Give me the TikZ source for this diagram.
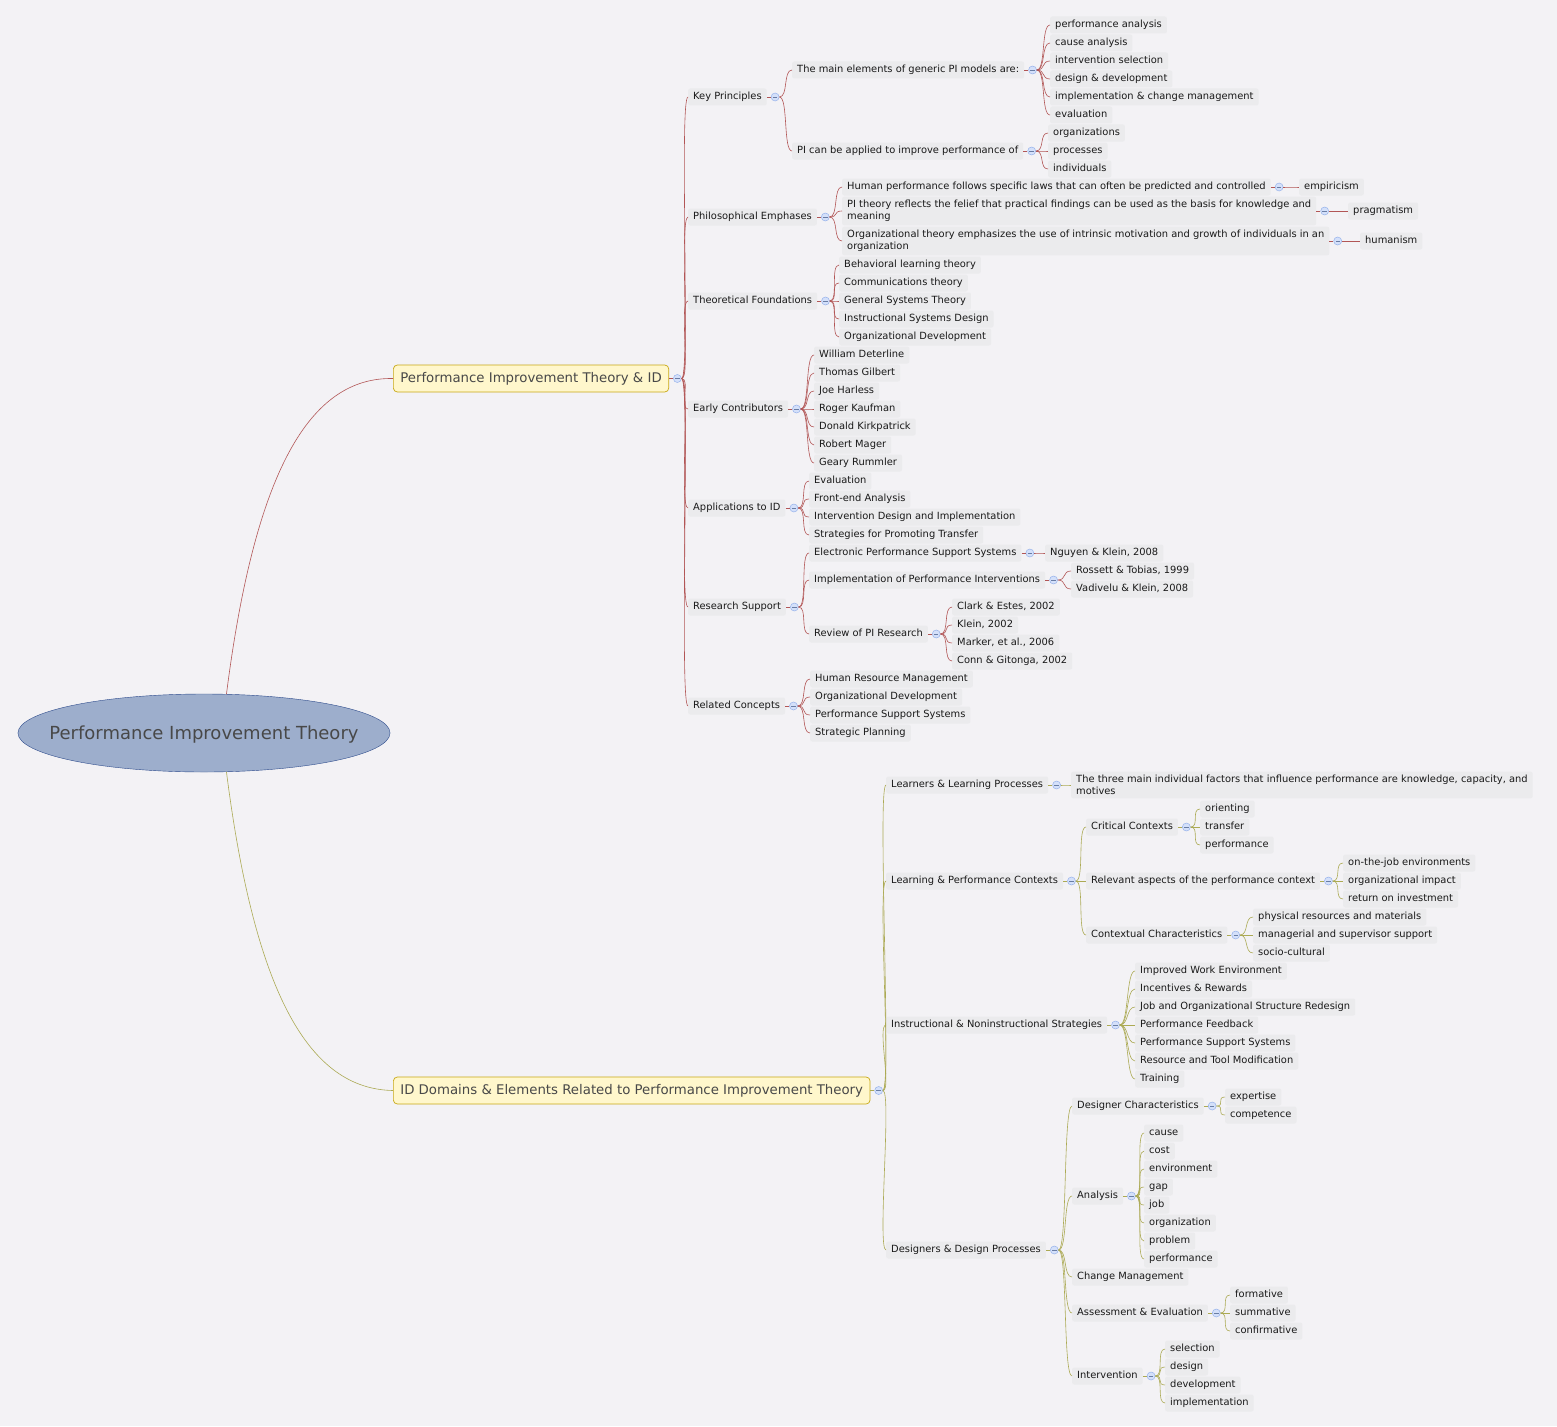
\documentclass[tikz,border=0pt]{standalone}
\usepackage{fontspec}
\setmainfont{DejaVu Sans}
\usetikzlibrary{positioning,shapes.geometric}
\definecolor{bgpaper}{RGB}{243,242,245}
\definecolor{boxgray}{RGB}{235,235,237}
\definecolor{inkdark}{RGB}{25,25,25}
\definecolor{topicfill}{RGB}{255,247,204}
\definecolor{topicedge}{RGB}{200,168,20}
\definecolor{rootfill}{RGB}{157,174,204}
\definecolor{rootedge}{RGB}{45,75,140}
\definecolor{rootink}{RGB}{72,72,72}
\definecolor{branchred}{RGB}{178,86,86}
\definecolor{brancholive}{RGB}{172,170,84}
\definecolor{mkfill}{RGB}{212,224,250}
\definecolor{mkedge}{RGB}{150,178,235}
\newcommand{\leaffont}{\fontsize{9.9}{12}\selectfont}
\newcommand{\topicfont}{\fontsize{13.3}{15}\selectfont}
\newcommand{\rootfont}{\fontsize{18}{21}\selectfont}
% curved connector from a knob to a child
\newcommand{\twig}[3]{\draw[#1] (#2.east) .. controls +(9,0) and +(-9,0) .. (#3.west);}
% collapse knob right of a node
\newcommand{\knob}[2]{\node[mk, right=4pt of #1] (#1M) {}; \draw[#2] (#1.east) -- (#1M.west);}
\tikzset{
  leaf/.style={anchor=west, fill=boxgray, rounded corners=2pt, inner xsep=5pt, inner ysep=3.5pt,
    text height=7.6pt, text depth=2.4pt, text=inkdark, font=\leaffont, yshift=-2pt},
  note/.style={anchor=west, fill=boxgray, rounded corners=2pt, inner xsep=5pt, inner ysep=3.5pt,
    text=inkdark, font=\leaffont, align=left, yshift=-2pt},
  topic/.style={anchor=west, draw=topicedge, fill=topicfill, rounded corners=4pt, inner xsep=7pt,
    inner ysep=7pt, text height=10pt, text depth=3pt, text=rootink, font=\topicfont, line width=0.7pt,
    yshift=-1.5pt},
  mk/.style={circle, draw=mkedge, fill=mkfill, minimum size=8pt, inner sep=0pt, line width=0.5pt,
    path picture={\draw[mkedge!70!black, line width=0.5pt] ([xshift=-2.2pt]path picture bounding box.center)
      -- ([xshift=2.2pt]path picture bounding box.center);}},
  redline/.style={draw=branchred, line width=0.6pt},
  oliveline/.style={draw=brancholive, line width=0.6pt}
}
\begin{document}
\begin{tikzpicture}[x=1pt, y=-1pt]
  % Canvas
  \fill[bgpaper] (0,0) rectangle (1557,1426);
  \useasboundingbox (0,0) rectangle (1557,1426);
  % Root
  \node[ellipse, draw=rootedge, fill=rootfill, minimum height=78pt, inner xsep=-23pt, inner ysep=0pt,
    text height=12.5pt, text depth=0pt, font=\rootfont, text=rootink] (root) at (204,733)
    {Performance Improvement Theory};
  % Main topics
  \node[topic] (pit) at (393,377) {Performance Improvement Theory \& ID};
  \node[topic] (idd) at (393,1089) {ID Domains \& Elements Related to Performance Improvement Theory};
  \draw[redline] (root.60) .. controls (255,470) and (310,377) .. (pit.west);
  \draw[oliveline] (root.-60) .. controls (255,996) and (310,1089) .. (idd.west);
  \knob{pit}{redline}
  \knob{idd}{oliveline}

  % ---- Performance Improvement Theory & ID ----
  \node[leaf] (kp) at (688,95) {Key Principles};
  \node[leaf] (pe) at (688,215) {Philosophical Emphases};
  \node[leaf] (tf) at (688,299) {Theoretical Foundations};
  \node[leaf] (ec) at (688,407) {Early Contributors};
  \node[leaf] (ai) at (688,506) {Applications to ID};
  \node[leaf] (rs) at (688,605) {Research Support};
  \node[leaf] (rc) at (688,704) {Related Concepts};
  \foreach \n in {kp,pe,tf,ec,ai,rs,rc} {\twig{redline}{pitM}{\n} \knob{\n}{redline}}

  % Key Principles
  \node[leaf] (kpa) at (792,68) {The main elements of generic PI models are:};
  \node[leaf] (kpb) at (792,149) {PI can be applied to improve performance of};
  \twig{redline}{kpM}{kpa} \twig{redline}{kpM}{kpb}
  \knob{kpa}{redline} \knob{kpb}{redline}
  \foreach \k/\y/\t in {1/23/performance analysis, 2/41/cause analysis, 3/59/intervention selection,
    4/77/design \& development, 5/95/implementation \& change management, 6/113/evaluation} {
    \node[leaf] (kpa\k) at (1050,\y) {\t}; \twig{redline}{kpaM}{kpa\k}}
  \foreach \k/\y/\t in {1/131/organizations, 2/149/processes, 3/167/individuals} {
    \node[leaf] (kpb\k) at (1048,\y) {\t}; \twig{redline}{kpbM}{kpb\k}}

  % Philosophical Emphases
  \node[leaf] (pea) at (842,185) {Human performance follows specific laws that can often be predicted and controlled};
  \node[note] (peb) at (842,209) {PI theory reflects the felief that practical findings can be used as the basis for knowledge and\\meaning};
  \node[note] (pec) at (842,239) {Organizational theory emphasizes the use of intrinsic motivation and growth of individuals in an\\organization};
  \foreach \n in {pea,peb,pec} {\twig{redline}{peM}{\n} \knob{\n}{redline}}
  \node[leaf] (pea1) at (1299,185) {empiricism};
  \node[leaf] (peb1) at (1348,209) {pragmatism};
  \node[leaf] (pec1) at (1360,239) {humanism};
  \twig{redline}{peaM}{pea1} \twig{redline}{pebM}{peb1} \twig{redline}{pecM}{pec1}

  % Theoretical Foundations
  \foreach \k/\y/\t in {1/263/Behavioral learning theory, 2/281/Communications theory, 3/299/General Systems Theory,
    4/317/Instructional Systems Design, 5/335/Organizational Development} {
    \node[leaf] (tf\k) at (839,\y) {\t}; \twig{redline}{tfM}{tf\k}}

  % Early Contributors
  \foreach \k/\y/\t in {1/353/William Deterline, 2/371/Thomas Gilbert, 3/389/Joe Harless, 4/407/Roger Kaufman,
    5/425/Donald Kirkpatrick, 6/443/Robert Mager, 7/461/Geary Rummler} {
    \node[leaf] (ec\k) at (814,\y) {\t}; \twig{redline}{ecM}{ec\k}}

  % Applications to ID
  \foreach \k/\y/\t in {1/479/Evaluation, 2/497/Front-end Analysis, 3/515/Intervention Design and Implementation,
    4/533/Strategies for Promoting Transfer} {
    \node[leaf] (ai\k) at (809,\y) {\t}; \twig{redline}{aiM}{ai\k}}

  % Research Support
  \node[leaf] (rsa) at (809,551) {Electronic Performance Support Systems};
  \node[leaf] (rsb) at (809,578) {Implementation of Performance Interventions};
  \node[leaf] (rsc) at (809,632) {Review of PI Research};
  \foreach \n in {rsa,rsb,rsc} {\twig{redline}{rsM}{\n} \knob{\n}{redline}}
  \node[leaf] (rsa1) at (1045,551) {Nguyen \& Klein, 2008};
  \twig{redline}{rsaM}{rsa1}
  \foreach \k/\y/\t in {1/569/{Rossett \& Tobias, 1999}, 2/587/{Vadivelu \& Klein, 2008}} {
    \node[leaf] (rsb\k) at (1071,\y) {\t}; \twig{redline}{rsbM}{rsb\k}}
  \foreach \k/\y/\t in {1/605/{Clark \& Estes, 2002}, 2/623/{Klein, 2002}, 3/641/{Marker, et al., 2006},
    4/659/{Conn \& Gitonga, 2002}} {
    \node[leaf] (rsc\k) at (952,\y) {\t}; \twig{redline}{rscM}{rsc\k}}

  % Related Concepts
  \foreach \k/\y/\t in {1/677/Human Resource Management, 2/695/Organizational Development,
    3/713/Performance Support Systems, 4/731/Strategic Planning} {
    \node[leaf] (rc\k) at (810,\y) {\t}; \twig{redline}{rcM}{rc\k}}

  % ---- ID Domains & Elements ----
  \node[leaf] (ll) at (886,783) {Learners \& Learning Processes};
  \node[leaf] (lp) at (886,879) {Learning \& Performance Contexts};
  \node[leaf] (is) at (886,1023) {Instructional \& Noninstructional Strategies};
  \node[leaf] (dd) at (886,1248) {Designers \& Design Processes};
  \foreach \n in {ll,lp,is,dd} {\twig{oliveline}{iddM}{\n} \knob{\n}{oliveline}}

  % Learners & Learning Processes
  \node[note] (ll1) at (1071,783) {The three main individual factors that influence performance are knowledge, capacity, and\\motives};
  \twig{oliveline}{llM}{ll1}

  % Learning & Performance Contexts
  \node[leaf] (lpa) at (1086,825) {Critical Contexts};
  \node[leaf] (lpb) at (1086,879) {Relevant aspects of the performance context};
  \node[leaf] (lpc) at (1086,933) {Contextual Characteristics};
  \foreach \n in {lpa,lpb,lpc} {\twig{oliveline}{lpM}{\n} \knob{\n}{oliveline}}
  \foreach \k/\y/\t in {1/807/orienting, 2/825/transfer, 3/843/performance} {
    \node[leaf] (lpa\k) at (1200,\y) {\t}; \twig{oliveline}{lpaM}{lpa\k}}
  \foreach \k/\y/\t in {1/861/on-the-job environments, 2/879/organizational impact, 3/897/return on investment} {
    \node[leaf] (lpb\k) at (1343,\y) {\t}; \twig{oliveline}{lpbM}{lpb\k}}
  \foreach \k/\y/\t in {1/915/physical resources and materials, 2/933/managerial and supervisor support,
    3/951/socio-cultural} {
    \node[leaf] (lpc\k) at (1253,\y) {\t}; \twig{oliveline}{lpcM}{lpc\k}}

  % Instructional & Noninstructional Strategies
  \foreach \k/\y/\t in {1/969/Improved Work Environment, 2/987/Incentives \& Rewards,
    3/1005/Job and Organizational Structure Redesign, 4/1023/Performance Feedback,
    5/1041/Performance Support Systems, 6/1059/Resource and Tool Modification, 7/1077/Training} {
    \node[leaf] (is\k) at (1135,\y) {\t}; \twig{oliveline}{isM}{is\k}}

  % Designers & Design Processes
  \node[leaf] (dda) at (1072,1104) {Designer Characteristics};
  \node[leaf] (ddb) at (1072,1194) {Analysis};
  \node[leaf] (ddc) at (1072,1275) {Change Management};
  \node[leaf] (ddd) at (1072,1311) {Assessment \& Evaluation};
  \node[leaf] (dde) at (1072,1374) {Intervention};
  \foreach \n in {dda,ddb,ddc,ddd,dde} {\twig{oliveline}{ddM}{\n}}
  \foreach \n in {dda,ddb,ddd,dde} {\knob{\n}{oliveline}}
  \foreach \k/\y/\t in {1/1095/expertise, 2/1113/competence} {
    \node[leaf] (dda\k) at (1225,\y) {\t}; \twig{oliveline}{ddaM}{dda\k}}
  \foreach \k/\y/\t in {1/1131/cause, 2/1149/cost, 3/1167/environment, 4/1185/gap, 5/1203/job,
    6/1221/organization, 7/1239/problem, 8/1257/performance} {
    \node[leaf] (ddb\k) at (1144,\y) {\t}; \twig{oliveline}{ddbM}{ddb\k}}
  \foreach \k/\y/\t in {1/1293/formative, 2/1311/summative, 3/1329/confirmative} {
    \node[leaf] (ddd\k) at (1230,\y) {\t}; \twig{oliveline}{dddM}{ddd\k}}
  \foreach \k/\y/\t in {1/1347/selection, 2/1365/design, 3/1383/development, 4/1401/implementation} {
    \node[leaf] (dde\k) at (1165,\y) {\t}; \twig{oliveline}{ddeM}{dde\k}}
\end{tikzpicture}
\end{document}
